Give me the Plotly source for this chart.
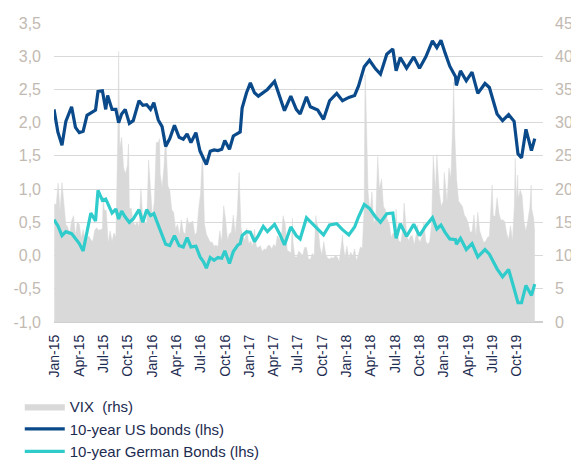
import pandas as pd
import plotly.graph_objects as go

# ---------------- data ----------------
bond_dates = [
    "2015-01-01", "2015-01-15", "2015-01-30", "2015-02-13", "2015-03-06", "2015-03-20", "2015-04-03", "2015-04-17",
    "2015-05-01", "2015-05-15", "2015-06-01", "2015-06-10", "2015-06-26", "2015-07-08", "2015-07-15", "2015-07-31",
    "2015-08-14", "2015-08-24", "2015-09-04", "2015-09-17", "2015-10-02", "2015-10-16", "2015-11-06", "2015-11-20",
    "2015-12-04", "2015-12-18", "2015-12-30", "2016-01-15", "2016-01-29", "2016-02-11", "2016-02-26", "2016-03-14",
    "2016-03-31", "2016-04-15", "2016-04-29", "2016-05-13", "2016-05-31", "2016-06-15", "2016-06-27", "2016-07-08",
    "2016-07-22", "2016-08-05", "2016-08-19", "2016-09-02", "2016-09-13", "2016-09-30", "2016-10-14", "2016-10-31",
    "2016-11-08", "2016-11-15", "2016-12-01", "2016-12-15", "2016-12-30", "2017-01-13", "2017-01-31", "2017-02-15",
    "2017-03-13", "2017-03-31", "2017-04-18", "2017-05-11", "2017-05-31", "2017-06-14", "2017-07-07", "2017-07-21",
    "2017-08-17", "2017-09-07", "2017-09-29", "2017-10-25", "2017-11-15", "2017-12-08", "2017-12-29", "2018-01-12",
    "2018-02-02", "2018-02-21", "2018-03-15", "2018-04-02", "2018-04-25", "2018-05-17", "2018-05-29", "2018-06-13",
    "2018-07-06", "2018-08-01", "2018-08-22", "2018-09-14", "2018-10-08", "2018-10-24", "2018-11-08", "2018-11-23",
    "2018-12-10", "2018-12-31", "2019-01-03", "2019-01-18", "2019-02-08", "2019-03-01", "2019-03-22", "2019-04-17",
    "2019-05-03", "2019-05-31", "2019-06-20", "2019-07-12", "2019-08-01", "2019-08-15", "2019-08-28", "2019-09-13",
    "2019-10-03", "2019-10-15",
]
us_10y = [
    2.20, 1.86, 1.66, 2.02, 2.24, 1.93, 1.85, 1.87,
    2.11, 2.14, 2.19, 2.47, 2.48, 2.20, 2.41, 2.20,
    2.20, 2.00, 2.13, 2.20, 1.99, 2.03, 2.33, 2.26,
    2.27, 2.20, 2.30, 2.04, 1.94, 1.64, 1.76, 1.96,
    1.78, 1.75, 1.83, 1.70, 1.85, 1.57, 1.46, 1.37,
    1.57, 1.59, 1.58, 1.60, 1.73, 1.60, 1.80, 1.84,
    1.86, 2.22, 2.45, 2.60, 2.45, 2.40, 2.45, 2.50,
    2.62, 2.39, 2.18, 2.40, 2.20, 2.13, 2.39, 2.24,
    2.19, 2.05, 2.33, 2.44, 2.33, 2.38, 2.41, 2.55,
    2.84, 2.94, 2.81, 2.73, 3.03, 3.11, 2.78, 2.98,
    2.82, 2.99, 2.82, 2.99, 3.23, 3.13, 3.24, 3.05,
    2.85, 2.69, 2.56, 2.78, 2.63, 2.76, 2.44, 2.59,
    2.53, 2.13, 2.03, 2.12, 2.02, 1.53, 1.47, 1.90,
    1.58, 1.76,
]
de_10y = [
    0.54, 0.45, 0.30, 0.36, 0.33, 0.25, 0.18, 0.07,
    0.37, 0.64, 0.52, 0.98, 0.83, 0.85, 0.79, 0.64,
    0.70, 0.55, 0.67, 0.58, 0.50, 0.55, 0.69, 0.50,
    0.69, 0.60, 0.63, 0.47, 0.33, 0.17, 0.15, 0.30,
    0.15, 0.13, 0.27, 0.13, 0.14, -0.02, -0.09, -0.19,
    -0.03, -0.07, -0.03, -0.04, 0.07, -0.12, 0.06, 0.16,
    0.18, 0.30, 0.36, 0.35, 0.21, 0.30, 0.44, 0.36,
    0.47, 0.33, 0.16, 0.43, 0.30, 0.25, 0.57, 0.51,
    0.41, 0.31, 0.46, 0.48, 0.39, 0.31, 0.43, 0.58,
    0.77, 0.71, 0.58, 0.50, 0.63, 0.64, 0.26, 0.48,
    0.29, 0.47, 0.30, 0.45, 0.57, 0.40, 0.46, 0.35,
    0.25, 0.24, 0.17, 0.26, 0.09, 0.18, -0.02, 0.09,
    0.02, -0.20, -0.32, -0.21, -0.50, -0.71, -0.71, -0.45,
    -0.60, -0.43,
]

vix_dates = [
    # 2015
    "2015-01-02", "2015-01-09", "2015-01-16", "2015-01-23", "2015-01-30", "2015-02-06", "2015-02-13", "2015-02-20",
    "2015-02-27", "2015-03-06", "2015-03-13", "2015-03-20", "2015-03-27", "2015-04-03", "2015-04-10", "2015-04-17",
    "2015-04-24", "2015-05-01", "2015-05-08", "2015-05-15", "2015-05-22", "2015-05-29", "2015-06-05", "2015-06-12",
    "2015-06-19", "2015-06-26", "2015-06-29", "2015-07-03", "2015-07-10", "2015-07-17", "2015-07-24", "2015-07-31",
    "2015-08-07", "2015-08-14", "2015-08-21", "2015-08-24", "2015-08-28", "2015-09-04", "2015-09-11", "2015-09-18",
    "2015-09-25", "2015-09-29", "2015-10-02", "2015-10-09", "2015-10-16", "2015-10-23", "2015-10-30", "2015-11-06",
    "2015-11-13", "2015-11-20", "2015-11-27", "2015-12-04", "2015-12-11", "2015-12-14", "2015-12-18", "2015-12-25",
    # 2016
    "2016-01-01", "2016-01-08", "2016-01-15", "2016-01-20", "2016-01-22", "2016-01-29", "2016-02-05", "2016-02-11",
    "2016-02-19", "2016-02-26", "2016-03-04", "2016-03-11", "2016-03-18", "2016-03-25", "2016-04-01", "2016-04-08",
    "2016-04-15", "2016-04-22", "2016-04-29", "2016-05-06", "2016-05-13", "2016-05-20", "2016-05-27", "2016-06-03",
    "2016-06-10", "2016-06-17", "2016-06-24", "2016-07-01", "2016-07-08", "2016-07-15", "2016-07-22", "2016-07-29",
    "2016-08-05", "2016-08-12", "2016-08-19", "2016-08-26", "2016-09-02", "2016-09-09", "2016-09-16", "2016-09-23",
    "2016-09-30", "2016-10-07", "2016-10-14", "2016-10-21", "2016-10-28", "2016-11-04", "2016-11-11", "2016-11-18",
    "2016-11-25", "2016-12-02", "2016-12-09", "2016-12-16", "2016-12-23", "2016-12-30",
    # 2017
    "2017-01-06", "2017-01-13", "2017-01-20", "2017-01-27", "2017-02-03", "2017-02-10", "2017-02-17", "2017-02-24",
    "2017-03-03", "2017-03-10", "2017-03-17", "2017-03-22", "2017-03-24", "2017-03-31", "2017-04-07", "2017-04-13",
    "2017-04-21", "2017-04-28", "2017-05-05", "2017-05-12", "2017-05-17", "2017-05-19", "2017-05-26", "2017-06-02",
    "2017-06-09", "2017-06-16", "2017-06-23", "2017-06-30", "2017-07-07", "2017-07-14", "2017-07-21", "2017-07-28",
    "2017-08-04", "2017-08-10", "2017-08-11", "2017-08-18", "2017-08-25", "2017-09-01", "2017-09-08", "2017-09-15",
    "2017-09-22", "2017-09-29", "2017-10-06", "2017-10-13", "2017-10-20", "2017-10-27", "2017-11-03", "2017-11-10",
    "2017-11-15", "2017-11-17", "2017-11-24", "2017-12-01", "2017-12-08", "2017-12-15", "2017-12-22", "2017-12-29",
    # 2018
    "2018-01-05", "2018-01-12", "2018-01-19", "2018-01-26", "2018-02-02", "2018-02-05", "2018-02-08", "2018-02-16",
    "2018-02-23", "2018-03-02", "2018-03-09", "2018-03-16", "2018-03-23", "2018-03-29", "2018-04-06", "2018-04-13",
    "2018-04-20", "2018-04-27", "2018-05-04", "2018-05-11", "2018-05-18", "2018-05-25", "2018-05-29", "2018-06-01",
    "2018-06-08", "2018-06-15", "2018-06-22", "2018-06-27", "2018-07-06", "2018-07-13", "2018-07-20", "2018-07-27",
    "2018-08-03", "2018-08-10", "2018-08-15", "2018-08-17", "2018-08-24", "2018-08-31", "2018-09-07", "2018-09-14",
    "2018-09-21", "2018-09-28", "2018-10-05", "2018-10-11", "2018-10-19", "2018-10-24", "2018-10-26", "2018-11-02",
    "2018-11-09", "2018-11-16", "2018-11-20", "2018-11-30", "2018-12-07", "2018-12-14", "2018-12-21", "2018-12-24",
    "2018-12-28",
    # 2019
    "2019-01-04", "2019-01-11", "2019-01-18", "2019-01-25", "2019-02-01", "2019-02-08", "2019-02-15", "2019-02-22",
    "2019-03-01", "2019-03-08", "2019-03-15", "2019-03-22", "2019-03-29", "2019-04-05", "2019-04-12", "2019-04-19",
    "2019-04-26", "2019-05-03", "2019-05-09", "2019-05-13", "2019-05-17", "2019-05-24", "2019-05-31", "2019-06-07",
    "2019-06-14", "2019-06-21", "2019-06-28", "2019-07-05", "2019-07-12", "2019-07-19", "2019-07-26", "2019-08-02",
    "2019-08-05", "2019-08-09", "2019-08-14", "2019-08-16", "2019-08-23", "2019-08-30", "2019-09-06", "2019-09-13",
    "2019-09-20", "2019-09-27", "2019-10-02", "2019-10-04", "2019-10-11", "2019-10-15",
]
vix_values = [
    # 2015
    17.8, 17.6, 20.9, 16.7, 21.0, 17.3, 14.7, 14.3,
    13.3, 15.2, 16.0, 13.0, 15.1, 14.7, 12.6, 13.9,
    12.3, 12.7, 12.9, 12.4, 12.1, 13.8, 14.2, 13.8,
    13.9, 14.0, 18.9, 16.8, 16.8, 11.9, 13.7, 12.1,
    13.4, 12.8, 28.0, 40.7, 26.1, 27.8, 23.2, 22.3,
    23.6, 26.8, 17.1, 17.1, 15.1, 14.5, 15.1, 14.3,
    20.1, 15.5, 15.1, 14.8, 24.4, 22.7, 20.7, 15.7,
    # 2016
    18.2, 27.0, 27.0, 27.6, 22.3, 20.2, 23.4, 28.1,
    20.5, 19.8, 16.9, 16.5, 14.0, 14.7, 13.1, 15.4,
    13.6, 13.2, 15.7, 14.7, 15.0, 15.2, 13.1, 13.5,
    17.0, 19.4, 25.8, 14.8, 13.2, 12.7, 12.0, 12.0,
    11.4, 11.6, 11.3, 13.7, 12.0, 17.5, 15.4, 12.3,
    13.3, 13.5, 16.1, 13.3, 16.2, 22.5, 14.2, 12.9,
    12.3, 14.1, 11.8, 12.2, 11.4, 14.0,
    # 2017
    11.3, 11.2, 11.5, 10.6, 11.0, 10.9, 11.5, 11.5,
    11.0, 11.7, 11.3, 12.8, 13.0, 12.4, 12.9, 16.0,
    14.6, 10.8, 10.6, 10.4, 15.6, 12.0, 9.8, 9.8,
    10.7, 10.4, 10.0, 11.2, 11.2, 9.5, 9.4, 10.3,
    10.0, 16.0, 15.5, 14.3, 11.3, 10.1, 12.1, 10.2,
    9.6, 9.5, 9.7, 9.6, 10.0, 9.8, 9.1, 11.3,
    13.1, 11.8, 9.7, 11.4, 9.6, 10.5, 9.9, 11.0,
    # 2018
    9.2, 10.2, 11.3, 11.1, 17.3, 37.3, 33.5, 19.5,
    16.5, 19.6, 14.6, 15.8, 24.9, 20.0, 21.5, 17.4,
    16.9, 15.4, 14.8, 12.7, 13.4, 13.2, 17.0, 13.5,
    12.2, 12.0, 13.8, 17.9, 13.4, 12.2, 12.9, 13.0,
    11.6, 13.2, 14.6, 12.6, 12.0, 12.9, 14.9, 12.1,
    11.7, 12.1, 14.8, 25.0, 19.9, 25.2, 24.2, 19.5,
    17.4, 18.1, 22.5, 18.1, 23.2, 21.6, 30.1, 36.1,
    28.3,
    # 2019
    21.4, 18.2, 17.8, 17.4, 16.1, 15.7, 14.9, 13.5,
    13.6, 16.1, 12.9, 16.5, 13.7, 12.8, 12.0, 12.1,
    12.7, 12.9, 19.1, 20.6, 16.0, 15.9, 18.7, 16.3,
    15.3, 15.4, 15.1, 13.3, 12.4, 14.5, 12.2, 17.6,
    24.6, 18.0, 22.1, 18.5, 19.9, 19.0, 15.0, 13.7,
    15.3, 17.2, 20.6, 17.0, 15.6, 13.5,
]

x_tick_labels = [
    "Jan-15", "Apr-15", "Jul-15", "Oct-15", "Jan-16", "Apr-16", "Jul-16", "Oct-16",
    "Jan-17", "Apr-17", "Jul-17", "Oct-17", "Jan-18", "Apr-18", "Jul-18", "Oct-18",
    "Jan-19", "Apr-19", "Jul-19", "Oct-19",
]
left_tick_values = [-1.0, -0.5, 0.0, 0.5, 1.0, 1.5, 2.0, 2.5, 3.0, 3.5]
left_tick_labels = ["-1,0", "-0,5", "0,0", "0,5", "1,0", "1,5", "2,0", "2,5", "3,0", "3,5"]
right_tick_values = [0, 5, 10, 15, 20, 25, 30, 35, 40, 45]

# ---------------- styling ----------------
FONT = "Liberation Sans, Arial, sans-serif"
AXIS_LABEL_COLOR = "#c2bab2"
DARK_TEXT = "#1c2b50"
GRID = "#d9d9d9"
US_COLOR = "#0b4a8a"
DE_COLOR = "#30cccc"
VIX_COLOR = "#d9d9d9"

# label positions follow the source chart's category spacing (~88.4 days)
tick_start = pd.Timestamp("2015-01-04")
x_tick_vals = [tick_start + pd.Timedelta(days=88.4 * i) for i in range(len(x_tick_labels))]

fig = go.Figure()

fig.add_trace(go.Scatter(
    x=pd.to_datetime(vix_dates), y=vix_values, name="VIX  (rhs)",
    mode="lines", fill="tozeroy", fillcolor=VIX_COLOR,
    line=dict(color=VIX_COLOR, width=0.5), yaxis="y",
))
fig.add_trace(go.Scatter(
    x=pd.to_datetime(bond_dates), y=us_10y, name="10-year US bonds (lhs)",
    mode="lines", line=dict(color=US_COLOR, width=3.2), yaxis="y2",
))
fig.add_trace(go.Scatter(
    x=pd.to_datetime(bond_dates), y=de_10y, name="10-year German Bonds (lhs)",
    mode="lines", line=dict(color=DE_COLOR, width=3.2), yaxis="y2",
))

# the page body adds an 8 px offset, so the figure is 8 px smaller than the window
fig.update_layout(
    width=571, height=454,
    margin=dict(l=46, r=36, t=15, b=140, autoexpand=False),
    paper_bgcolor="white", plot_bgcolor="white",
    font=dict(family=FONT, color=DARK_TEXT),
    showlegend=True,
    legend=dict(
        x=-0.07, y=-0.228, xanchor="left", yanchor="top",
        font=dict(size=15, color=DARK_TEXT, family=FONT),
        tracegroupgap=0, itemwidth=40, bgcolor="rgba(0,0,0,0)",
    ),
    xaxis=dict(
        type="date", automargin=False,
        range=[pd.Timestamp("2015-01-01"), pd.Timestamp("2019-11-14")],
        tickmode="array", tickvals=x_tick_vals, ticktext=x_tick_labels,
        tickangle=-90, tickfont=dict(size=14, color=DARK_TEXT),
        showgrid=False, zeroline=False, showline=False, ticks="",
        ticklabelstandoff=9,
    ),
    yaxis=dict(
        side="right", range=[0, 45], automargin=False,
        tickmode="array", tickvals=right_tick_values,
        tickfont=dict(size=16, color=AXIS_LABEL_COLOR),
        showgrid=True, gridcolor=GRID, gridwidth=1,
        zeroline=True, zerolinecolor="#cfcfcf", zerolinewidth=1.5,
        showline=False, ticks="", ticklabelstandoff=11,
    ),
    yaxis2=dict(
        overlaying="y", side="left", range=[-1, 3.5], automargin=False,
        tickmode="array", tickvals=left_tick_values, ticktext=left_tick_labels,
        tickfont=dict(size=16, color=AXIS_LABEL_COLOR),
        showgrid=False, zeroline=False, showline=False, ticks="",
        ticklabelstandoff=12,
    ),
)

fig.write_html("out.html")
